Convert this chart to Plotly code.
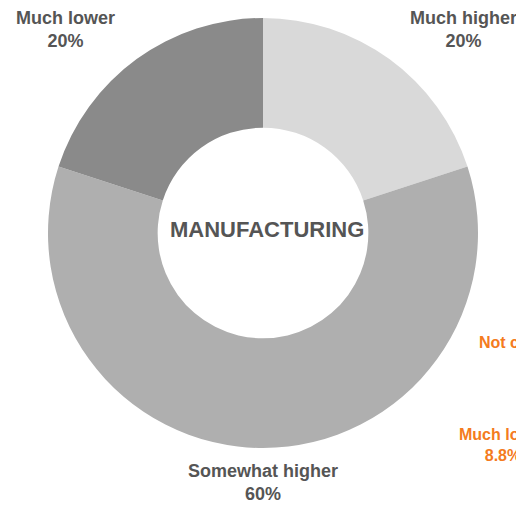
import plotly.graph_objects as go

# Sector breakdown for manufacturing
categories = ["Much higher", "Somewhat higher", "Much lower"]
shares = [20, 60, 20]
slice_colors = ["#D9D9D9", "#AFAFAF", "#8A8A8A"]

# Labels of the neighbouring panel that spill over the right edge
side_labels = ["Not comparable", "Much lower"]
side_values = [None, 8.8]

W, H = 516, 507
cx, cy, R = 263, 233, 215  # pixel centre and outer radius of the ring

fig = go.Figure(
    go.Pie(
        labels=categories,
        values=shares,
        sort=False,
        direction="clockwise",
        rotation=0,
        hole=0.49,
        marker=dict(colors=slice_colors, line=dict(width=0)),
        textinfo="none",
        hoverinfo="label+percent",
        showlegend=False,
        domain=dict(x=[(cx - R) / W, (cx + R) / W],
                    y=[1 - (cy + R) / H, 1 - (cy - R) / H]),
    )
)

label_font = dict(family="Liberation Sans, Arial, sans-serif", size=18, color="#555555")
label_pos = {"Much lower": (65, 30), "Much higher": (463, 30), "Somewhat higher": (263, 482)}
total = sum(shares)
annotations = []
for cat, val in zip(categories, shares):
    px, py = label_pos[cat]
    annotations.append(dict(
        x=px / W, y=1 - py / H, xref="paper", yref="paper",
        text=f"<b>{cat}<br>{round(val / total * 100)}%</b>",
        showarrow=False, xanchor="center", yanchor="middle",
        align="center", font=label_font,
    ))

annotations.append(dict(
    x=267 / W, y=1 - 229 / H, xref="paper", yref="paper",
    text="<b>MANUFACTURING</b>", showarrow=False,
    xanchor="center", yanchor="middle",
    font=dict(family="Liberation Sans, Arial, sans-serif", size=22, color="#555555"),
))

orange_font = dict(family="Liberation Sans, Arial, sans-serif", size=16, color="#F47B20")
side_pos = [(477, 342, "left"), (503, 445, "center")]
for lab, val, (px, py, anchor) in zip(side_labels, side_values, side_pos):
    txt = f"<b>{lab}</b>" if val is None else f"<b>{lab}<br>{val}%</b>"
    annotations.append(dict(
        x=px / W, y=1 - py / H, xref="paper", yref="paper",
        text=txt, showarrow=False, xanchor=anchor, yanchor="middle",
        align="center", font=orange_font,
    ))

fig.update_layout(
    width=W, height=H,
    margin=dict(l=0, r=0, t=0, b=0),
    paper_bgcolor="white", plot_bgcolor="white",
    annotations=annotations,
)

fig.write_html("out.html")
